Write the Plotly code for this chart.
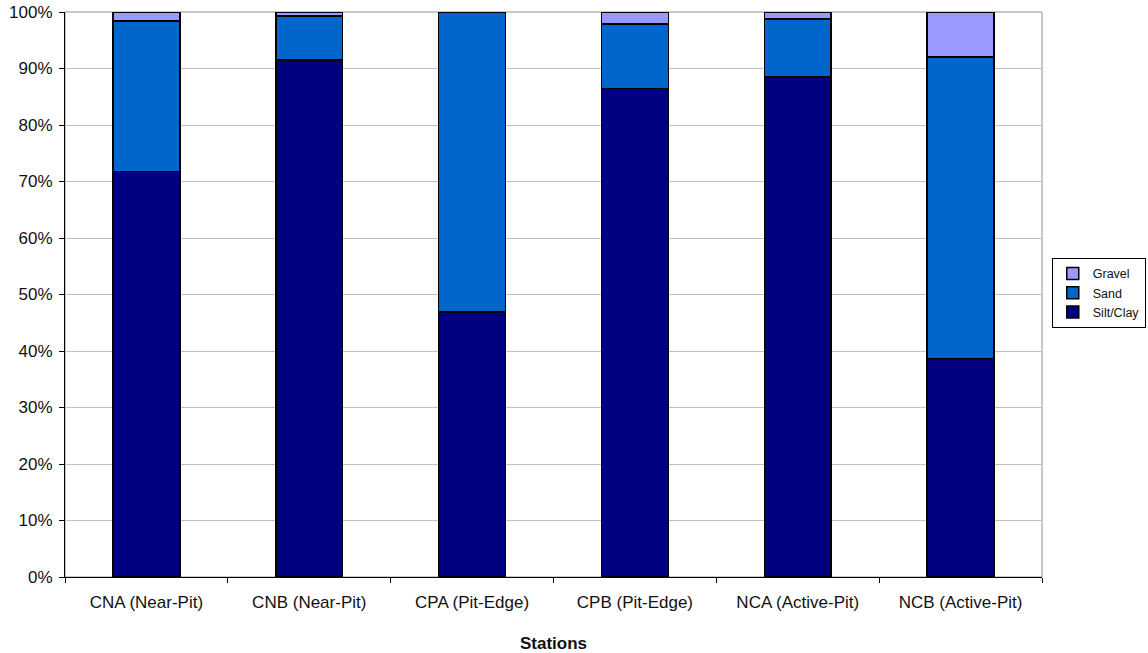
import plotly.graph_objects as go

stations = ["CNA (Near-Pit)", "CNB (Near-Pit)", "CPA (Pit-Edge)", "CPB (Pit-Edge)",
            "NCA (Active-Pit)", "NCB (Active-Pit)"]
silt_clay = [71.8, 91.5, 46.9, 86.5, 88.5, 38.7]
sand = [26.6, 7.8, 53.1, 11.4, 10.3, 53.3]
gravel = [1.6, 0.7, 0.0, 2.1, 1.2, 8.0]

colors = {"Silt/Clay": "#000080", "Sand": "#0066CC", "Gravel": "#9999FF"}

fig = go.Figure()
for name, vals in [("Silt/Clay", silt_clay), ("Sand", sand), ("Gravel", gravel)]:
    fig.add_trace(go.Bar(
        x=stations, y=vals, name=name,
        marker=dict(color=colors[name], line=dict(color="black", width=1.5)),
    ))

fig.update_layout(
    barmode="stack",
    bargap=0.59,
    width=1148, height=653,
    margin=dict(l=65, r=106, t=12, b=76, autoexpand=False),
    paper_bgcolor="white", plot_bgcolor="white",
    font=dict(family="Liberation Sans, Arial, sans-serif", size=17, color="#111111"),
    legend=dict(
        x=1.010, xanchor="left", y=0.503, yanchor="middle",
        traceorder="reversed",
        bordercolor="black", borderwidth=1,
        font=dict(size=12.5),
        itemwidth=30,
        tracegroupgap=0,
    ),
    xaxis=dict(
        title=dict(text="<b>Stations</b>", font=dict(size=17), standoff=27),
        automargin=False,
        showline=True, linecolor="black", linewidth=1,
        ticks="outside", tickson="boundaries", ticklen=5, tickcolor="black",
        ticklabelstandoff=10,
        showgrid=False,
    ),
    yaxis=dict(
        range=[0, 100],
        automargin=False,
        tickvals=list(range(0, 101, 10)),
        ticktext=[f"{v}%" for v in range(0, 101, 10)],
        showline=True, linecolor="black", linewidth=1,
        ticks="outside", ticklen=5, tickcolor="black",
        ticklabelstandoff=3,
        showgrid=True, gridcolor="#c0c0c0", gridwidth=1,
        zeroline=False,
    ),
    shapes=[dict(type="rect", xref="paper", yref="paper", x0=0, x1=1, y0=0, y1=1,
                 line=dict(color="#909090", width=1), layer="below")],
)

fig.write_html("out.html", config={"displayModeBar": False},
               post_script="document.body.style.margin='0';document.body.style.overflow='hidden';")
